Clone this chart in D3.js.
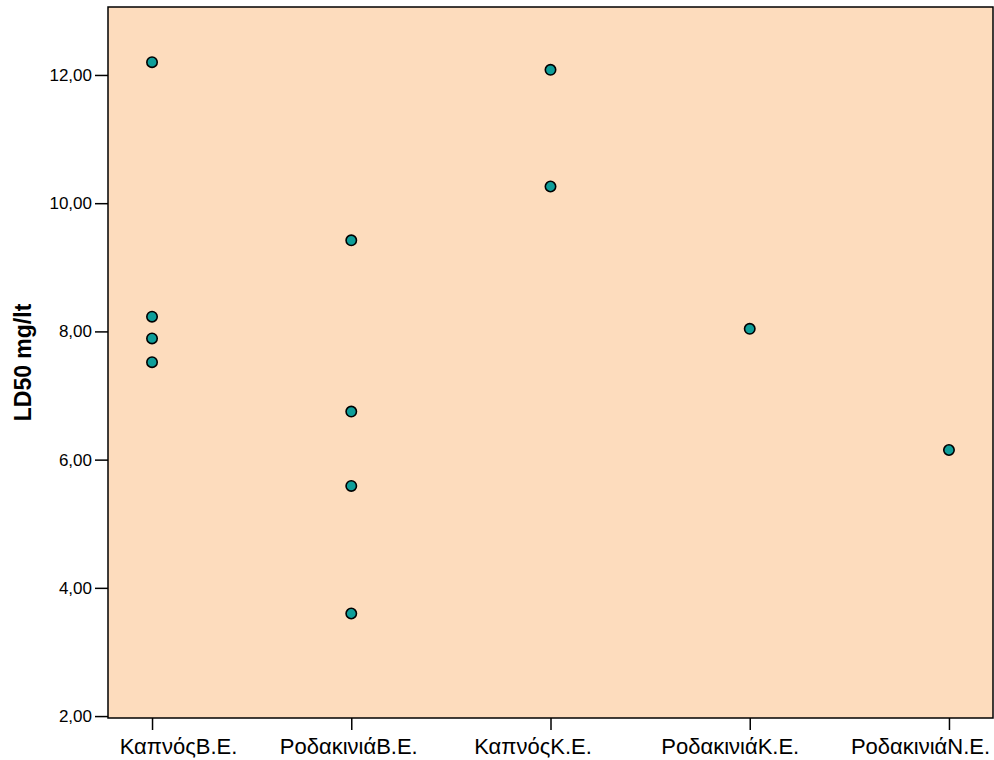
<!DOCTYPE html>
<html>
<head>
<meta charset="utf-8">
<script src="https://cdn.jsdelivr.net/npm/d3@7"></script>
<style>
  html, body { margin: 0; padding: 0; background: #fff; }
  svg { display: block; font-family: "Liberation Sans", Arial, sans-serif; }
</style>
</head>
<body>
<svg id="chart" width="994" height="760"></svg>
<script>
// Groups along the x axis
const categories = ["ΚαπνόςB.E.", "ΡοδακινιάB.E.", "ΚαπνόςK.E.", "ΡοδακινιάK.E.", "ΡοδακινιάN.E."];

// LD50 observations per group (mg/lt)
const kapnosBE = [12.20, 8.23, 7.89, 7.52];
const rodakiniaBE = [9.42, 6.75, 5.59, 3.60];
const kapnosKE = [12.08, 10.26];
const rodakiniaKE = [8.04];
const rodakiniaNE = [6.15];

const groupValues = [kapnosBE, rodakiniaBE, kapnosKE, rodakiniaKE, rodakiniaNE];
const yTicks = [2, 4, 6, 8, 10, 12];

const points = [];
groupValues.forEach((vals, i) => vals.forEach(v => points.push({ cat: categories[i], value: v })));

const svg = d3.select("#chart");
const m = { left: 108, right: 993, top: 7, bottom: 718 };

const x = d3.scalePoint().domain(categories).range([m.left, m.right]).padding(0.221);
const y = d3.scaleLinear().domain([1.97, 13.06]).range([m.bottom, m.top]);

// Plot background
svg.append("rect")
  .attr("x", m.left).attr("y", m.top)
  .attr("width", m.right - m.left).attr("height", m.bottom - m.top)
  .attr("fill", "#fddcbd").attr("stroke", "#000").attr("stroke-width", 1.5);

// Y axis
const yAxis = svg.append("g")
  .attr("transform", `translate(${m.left},0)`)
  .call(d3.axisLeft(y).tickValues(yTicks).tickSize(13).tickPadding(3)
    .tickFormat(d => d3.format(".2f")(d).replace(".", ",")));
yAxis.select(".domain").remove();
yAxis.selectAll("line").attr("stroke", "#000").attr("stroke-width", 1.5);
yAxis.selectAll("text").attr("font-size", 17).attr("fill", "#000")
  .attr("font-family", "'Liberation Sans', Arial, sans-serif");

// X axis; labels sit slightly off their ticks so the outer ones stay inside the frame
const labelShift = [26, -3, -18, -20, -29];
const xAxis = svg.append("g")
  .attr("transform", `translate(0,${m.bottom})`)
  .call(d3.axisBottom(x).tickSize(12).tickPadding(0));
xAxis.select(".domain").remove();
xAxis.selectAll("line").attr("stroke", "#000").attr("stroke-width", 1.5);
xAxis.selectAll("text")
  .attr("font-size", 22).attr("fill", "#000")
  .attr("font-family", "'Liberation Sans', Arial, sans-serif")
  .attr("dy", null)
  .attr("y", 36)
  .attr("dx", (d, i) => labelShift[i]);

// Y axis title
svg.append("text")
  .attr("transform", `translate(31,${(m.top + m.bottom) / 2}) rotate(-90)`)
  .attr("text-anchor", "middle")
  .attr("font-size", 23).attr("font-weight", "bold")
  .text("LD50 mg/lt");

// Observations
svg.append("g").selectAll("circle")
  .data(points)
  .join("circle")
  .attr("cx", d => x(d.cat))
  .attr("cy", d => y(d.value))
  .attr("r", 5.2)
  .attr("fill", "#0e9e9a")
  .attr("stroke", "#000")
  .attr("stroke-width", 1.6);
</script>
</body>
</html>
